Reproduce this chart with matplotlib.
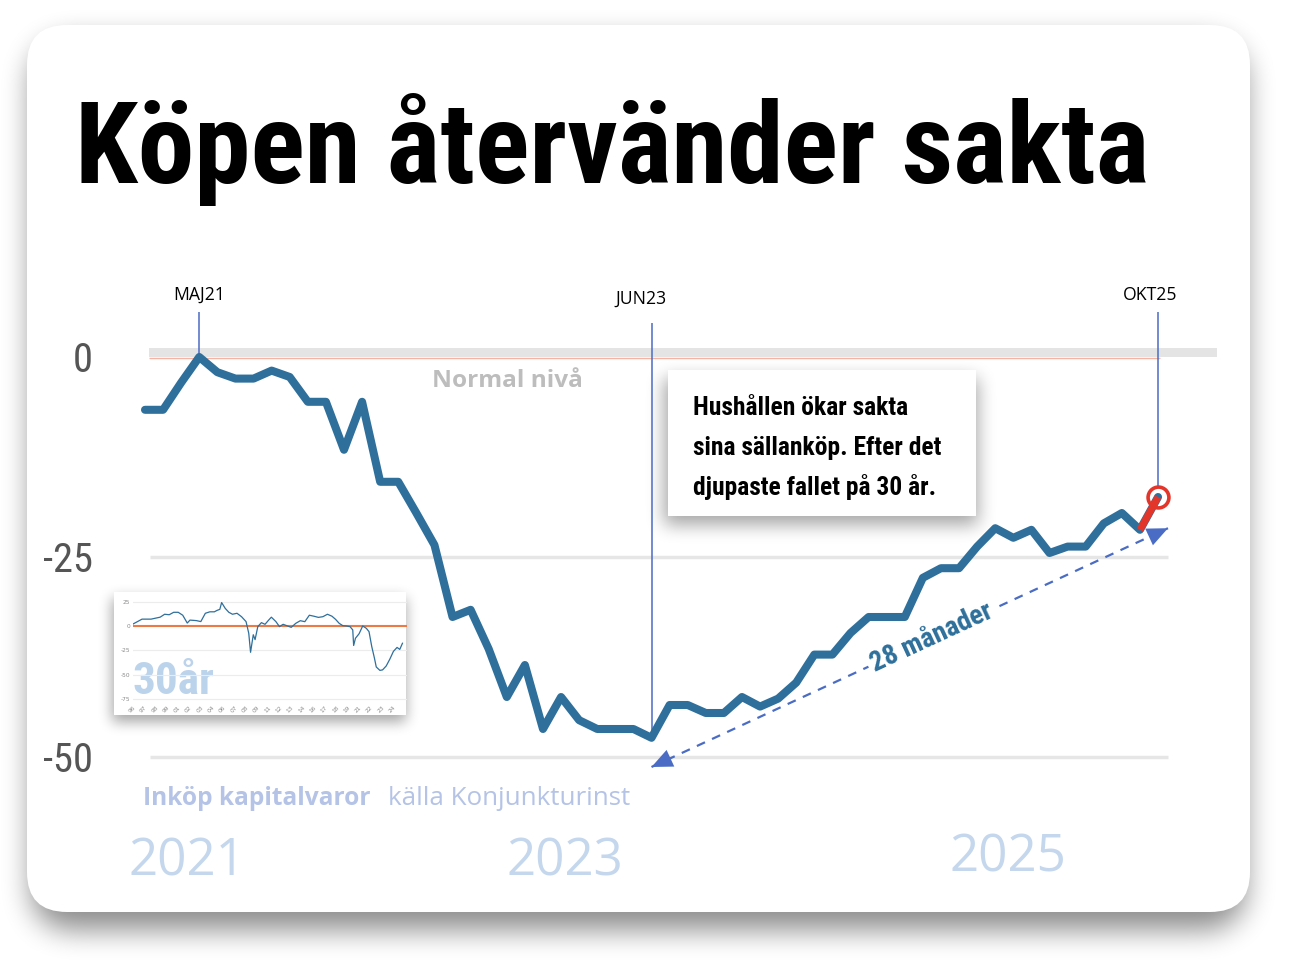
import os
import numpy as np
import pandas as pd
import matplotlib
matplotlib.use("Agg")
import matplotlib.pyplot as plt
from matplotlib import font_manager
from matplotlib.font_manager import FontProperties
from matplotlib.patches import FancyBboxPatch, Rectangle

W, H = 1292, 964

# Hushållens inköp av kapitalvaror, nettotal (Konjunkturinstitutet)
months = pd.date_range("2021-02-01", "2025-10-01", freq="MS")
purchases = [
    -6.6, -6.6, -3.2, 0.0, -1.9, -2.7, -2.7, -1.7, -2.5, -5.6, -5.6,
    -11.6, -5.6, -15.6, -15.6, -19.5, -23.5, -32.5, -31.6, -36.5, -42.5, -38.5, -46.5,
    -42.5, -45.4, -46.5, -46.5, -46.5, -47.6, -43.5, -43.5, -44.5, -44.5, -42.5, -43.7,
    -42.7, -40.7, -37.2, -37.2, -34.5, -32.5, -32.5, -32.5, -27.6, -26.4, -26.4, -23.7,
    -21.4, -22.6, -21.6, -24.5, -23.7, -23.7, -20.8, -19.5, -21.6, -17.5,
]
marked = {"MAJ21": "2021-05-01", "JUN23": "2023-06-01", "OKT25": "2025-10-01"}
y_ticks = [0, -25, -50]
year_labels = ["2021", "2023", "2025"]

# 30 years, small inset
long_years = [1996.0, 1996.5, 1997.0, 1998.0, 1999.0, 1999.5, 2000.0, 2000.5, 2001.0, 2001.5,
              2002.0, 2002.3, 2003.0, 2003.5, 2004.0, 2004.5, 2005.0, 2005.3, 2005.6, 2005.8,
              2006.2, 2006.6, 2007.0, 2007.5, 2008.0, 2008.5, 2008.8, 2009.0, 2009.3, 2009.5,
              2009.8, 2010.2, 2010.6, 2011.0, 2011.3, 2011.8, 2012.2, 2012.6, 2013.0, 2013.5,
              2014.0, 2014.5, 2015.0, 2015.5, 2016.0, 2016.5, 2017.0, 2017.5, 2018.0, 2018.4,
              2018.8, 2019.2, 2019.6, 2020.0, 2020.3, 2020.4, 2020.6, 2021.0, 2021.4, 2021.8,
              2022.1, 2022.4, 2022.7, 2022.9, 2023.3, 2023.6, 2024.0, 2024.4, 2024.8, 2025.2,
              2025.5, 2025.8]
long_values = [2, 4.5, 7, 7, 9, 12, 11.5, 14, 14, 11,
               3, 6, 5.5, 4.5, 13, 14.5, 14.5, 16, 17, 24,
               18, 14, 12, 13, 9.5, 4.5, -7.5, -27, -9, -14,
               -0.7, 3.4, 1.7, 6, 9, 4.5, -0.7, 1.7, 0.3, -1.4,
               2.7, 5.4, 4.4, 11, 10, 8.8, 9.5, 12, 10, 6.8,
               2.7, 0.3, 0, -0.7, -4, -20, -12.6, -8, 0, -2.4,
               -5.8, -21, -33, -42, -45.5, -45, -41, -34, -26, -22,
               -24, -17.7]
long_ticks = [25, 0, -25, -50, -75]

LINE = "#2e6f9b"
ANN = "#4a6cc4"
RED = "#e4352a"


def cond_font(bold):
    files = sorted(f.fname for f in font_manager.fontManager.ttflist)
    fams = ["notosans-extracondensed", "robotocondensed", "notosans-condensed",
            "liberationsansnarrow", "dejavusanscondensed"]
    ok = ("-bold.ttf", "bold.ttf", "-bold.otf") if bold else ("-regular.ttf", ".ttf", "regular.ttf", "-regular.otf")
    for fam in fams:
        for fn in files:
            base = os.path.basename(fn).lower().replace(" ", "")
            if base.startswith(fam) and base[len(fam):] in ok:
                return FontProperties(fname=fn)
    return FontProperties(family="DejaVu Sans", weight="bold" if bold else "normal")


COND_B = cond_font(True)
COND_R = cond_font(False)
OPEN_R = FontProperties(family="Open Sans")
OPEN_B = FontProperties(family="Open Sans", weight="bold")

fig = plt.figure(figsize=(W / 100, H / 100), dpi=100)
renderer = fig.canvas.get_renderer()


def sized(fp, size):
    p = fp.copy()
    p.set_size(size)
    return p


def fit(s, fp, width):
    t = fig.text(0, 0, s, fontproperties=sized(fp, 100))
    bb = t.get_window_extent(renderer)
    t.remove()
    return sized(fp, 100 * width / bb.width)


def frac(x0, y0, x1, y1):
    return [x0 / W, 1 - y1 / H, (x1 - x0) / W, (y1 - y0) / H]


# ---- background layer in pixel coordinates
bg = fig.add_axes([0, 0, 1, 1], zorder=0)
yy, xx = np.mgrid[0:H, 0:W] + 0.5


def rrect(x0, y0, x1, y1, r):
    cx = np.clip(xx, x0 + r, x1 - r)
    cy = np.clip(yy, y0 + r, y1 - r)
    return (((xx - cx) ** 2 + (yy - cy) ** 2) <= r * r).astype(float)


def box1d(a, k, axis):
    pad = [(0, 0), (0, 0)]
    pad[axis] = (k + 1, k)
    c = np.cumsum(np.pad(a, pad, mode="edge"), axis=axis)
    n = a.shape[axis]
    return (np.take(c, np.arange(2 * k + 1, 2 * k + 1 + n), axis=axis)
            - np.take(c, np.arange(n), axis=axis)) / (2 * k + 1)


def blur(a, k):
    for _ in range(3):
        a = box1d(box1d(a, k, 0), k, 1)
    return a


def shadow_img(alpha):
    img = np.zeros((H, W, 4))
    img[..., 3] = np.clip(alpha, 0, 1)
    return img


card_shadow = blur(rrect(31, 40, 1246, 930, 40), 13) * 0.45
bg.imshow(shadow_img(card_shadow), extent=(0, W, H, 0), zorder=1, aspect="auto")
bg.add_patch(FancyBboxPatch((27, 25), 1223, 887, boxstyle="round,pad=0,rounding_size=40",
                            fc="white", ec="none", zorder=2))
small_shadow = np.maximum(blur(rrect(112, 598, 406, 722, 2), 6) * 0.35,
                          blur(rrect(664, 378, 978, 525, 2), 8) * 0.35)
bg.imshow(shadow_img(small_shadow), extent=(0, W, H, 0), zorder=3, aspect="auto")
bg.add_patch(Rectangle((114, 592), 292, 123, fc="white", ec="none", zorder=4))
bg.add_patch(Rectangle((668, 370), 308, 146, fc="white", ec="none", zorder=4))
bg.set_xlim(0, W)
bg.set_ylim(H, 0)
bg.axis("off")

title = "Köpen återvänder sakta"
bg.text(75, 183, title, fontproperties=fit(title, COND_B, 1075), color="black",
        ha="left", va="baseline", zorder=5)

box_lines = ["Hushållen ökar sakta", "sina sällanköp. Efter det", "djupaste fallet på 30 år."]
box_fp = fit(box_lines[1], COND_B, 248)
for i, line in enumerate(box_lines):
    bg.text(693, 415 + 40 * i, line, fontproperties=box_fp, color="black",
            ha="left", va="baseline", zorder=5)

bg.text(432, 387, "Normal nivå", fontproperties=fit("Normal nivå", OPEN_B, 151),
        color="#bdbdbd", ha="left", va="baseline", zorder=5)

bg.text(143, 805, "Inköp kapitalvaror", fontproperties=fit("Inköp kapitalvaror", OPEN_B, 228),
        color="#b4c3e6", ha="left", va="baseline", zorder=5)
bg.text(388, 805, "källa Konjunkturinst", fontproperties=fit("källa Konjunkturinst", OPEN_R, 242),
        color="#b4c3e6", ha="left", va="baseline", zorder=5)

year_fp = fit("2021", OPEN_R, 117)
for lab, cx, base in zip(year_labels, [187, 565, 1008], [876, 876, 871]):
    bg.text(cx, base, lab, fontproperties=year_fp, color="#c4d7ed",
            ha="center", va="baseline", zorder=5)

bg.text(133, 694, "30år", fontproperties=fit("30år", COND_B, 82), color="#bcd3ec",
        ha="left", va="baseline", zorder=5)

# ---- main chart
X0, DX, Y0, DY = 145, 18.09, 357, 8.0   # pixel of first month / value 0


def ix(px):
    return (px - X0) / DX


def vy(py):
    return (Y0 - py) / DY


ax = fig.add_axes(frac(100, 280, 1230, 815), zorder=1)
ax.patch.set_alpha(0)
x = np.arange(len(months))
ax.set_xlim(ix(100), ix(1230))
ax.set_ylim(vy(815), vy(280))

ax.add_patch(Rectangle((ix(149), 0), ix(1217) - ix(149), vy(348), fc="#e4e4e4", ec="none", zorder=0))
ax.hlines(-0.15, ix(149), ix(1160), color="#f5b3a3", lw=1, zorder=1)
ax.hlines(y_ticks[1:], ix(150), ix(1168), color="#e6e6e6", lw=2.5, zorder=1)

idx = {k: months.get_loc(pd.Timestamp(v)) for k, v in marked.items()}
i_maj, i_jun, i_okt = idx["MAJ21"], idx["JUN23"], idx["OKT25"]
ax.vlines(i_maj, purchases[i_maj], vy(312), color=ANN, lw=1.1, zorder=2)
ax.vlines(i_jun, purchases[i_jun], vy(323), color=ANN, lw=1.1, zorder=2)
ax.vlines(i_okt, purchases[i_okt] + 1.3, vy(312), color=ANN, lw=1.1, zorder=2)
lab_fp = fit("MAJ21", OPEN_R, 52)
ax.text(i_maj, vy(295), "MAJ21", fontproperties=lab_fp, ha="center", va="center")
ax.text(i_jun - 0.6, vy(299), "JUN23", fontproperties=lab_fp, ha="center", va="center")
ax.text(i_okt - 0.45, vy(295), "OKT25", fontproperties=lab_fp, ha="center", va="center")

# dashed double arrow: 28 months from the bottom to now
a0 = (i_jun, purchases[i_jun] - 3.65)
a1 = (i_okt + 0.55, purchases[i_okt] - 3.9)
ax.plot([a0[0], a1[0]], [a0[1], a1[1]], color=ANN, lw=1.6, ls=(0, (4, 3.5)), zorder=2)
for tip, back in [(a1, a0), (a0, a1)]:
    ax.annotate("", xy=tip, xytext=(tip[0] + 0.05 * (back[0] - tip[0]), tip[1] + 0.05 * (back[1] - tip[1])),
                arrowprops=dict(arrowstyle="-|>,head_length=0.75,head_width=0.33", color=ANN,
                                lw=0, mutation_scale=20, shrinkA=0, shrinkB=0), zorder=2)
p0 = ax.transData.transform(a0)
p1 = ax.transData.transform(a1)
ang = np.degrees(np.arctan2(p1[1] - p0[1], p1[0] - p0[0]))
t = 0.543
ax.text(a0[0] + t * (a1[0] - a0[0]), a0[1] + t * (a1[1] - a0[1]), "28 månader",
        fontproperties=fit("28 månader", COND_B, 132), color=LINE, rotation=ang,
        rotation_mode="anchor", ha="center", va="center", zorder=3,
        bbox=dict(fc="white", ec="none", pad=3))

ax.plot(x, purchases, color=LINE, lw=5.8, solid_joinstyle="round", solid_capstyle="round", zorder=4)
ax.plot(x[-2:], purchases[-2:], color=RED, lw=5, solid_capstyle="butt", zorder=5)
ax.plot(x[-1], purchases[-1], "o", ms=15, mfc="none", mec=RED, mew=2.6, zorder=6)

ax.set_yticks(y_ticks)
ax.set_yticklabels([str(v) for v in y_ticks], fontproperties=fit("-25", COND_R, 50), color="#555555")
ax.set_xticks([])
ax.tick_params(axis="y", length=0, pad=5)
for s in ax.spines.values():
    s.set_visible(False)

# ---- 30-year inset
ins = fig.add_axes(frac(133, 596, 407, 702), zorder=2)
ins.patch.set_alpha(0)
ins.set_xlim(1996, 2026.3)
ins.set_ylim(-77.9, 30.7)
for v in long_ticks:
    if v != 0:
        ins.axhline(v, color="#ececec", lw=0.8, zorder=0)
ins.axhline(0, color="#ec7a45", lw=1.5, zorder=1)
ins.plot(long_years, long_values, color=LINE, lw=0.9, zorder=2)
ins.set_yticks(long_ticks)
ins.set_yticklabels([str(v) for v in long_ticks])
xt = np.arange(1996, 2025.5, 1.25)
ins.set_xticks(xt)
ins.set_xticklabels([f"{int(v) % 100:02d}" for v in xt], rotation=45, ha="right", rotation_mode="anchor")
ins.tick_params(axis="both", length=0, labelsize=4.2, labelcolor="#8a8a8a", pad=2)
for s in ins.spines.values():
    s.set_visible(False)

fig.savefig("out.png", dpi=100)
